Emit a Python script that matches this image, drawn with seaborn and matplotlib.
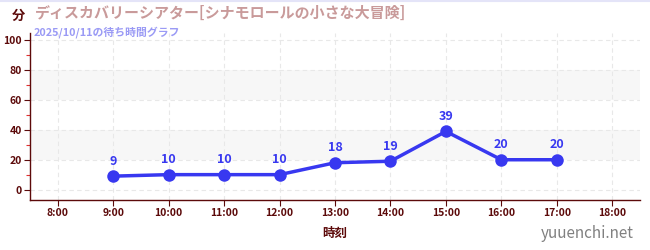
import matplotlib
matplotlib.use("Agg")
import matplotlib.pyplot as plt
import seaborn as sns
import pandas as pd
from matplotlib.ticker import MultipleLocator
from matplotlib.lines import Line2D

sns.set_theme(style="white")
plt.rcParams['font.family'] = ['Noto Sans CJK JP', 'DejaVu Sans']

times = ["9:00", "10:00", "11:00", "12:00", "13:00", "14:00", "15:00", "16:00", "17:00"]
hours = [9, 10, 11, 12, 13, 14, 15, 16, 17]
waits = [9, 10, 10, 10, 18, 19, 39, 20, 20]
tick_hours = [8, 9, 10, 11, 12, 13, 14, 15, 16, 17, 18]
tick_labels = ["8:00", "9:00", "10:00", "11:00", "12:00", "13:00", "14:00", "15:00", "16:00", "17:00", "18:00"]
title = "ディスカバリーシアター[シナモロールの小さな大冒険]"
subtitle = "2025/10/11の待ち時間グラフ"

df = pd.DataFrame({"hour": hours, "wait": waits, "time": times})

fig = plt.figure(figsize=(6.5, 2.5), dpi=100)
ax = fig.add_axes([30/650, 50/250, 610/650, 167/250])

dark = "#5c0a0a"
blue = "#3838f0"

for lo, hi in [(20, 40), (60, 80)]:
    ax.axhspan(lo, hi, color="#f7f7f7", zorder=0, lw=0)

sns.lineplot(data=df, x="hour", y="wait", ax=ax, color=blue, lw=2.5,
             marker="o", markersize=9, markeredgewidth=0, zorder=3)

for h, w in zip(hours, waits):
    ax.annotate(str(w), (h, w), xytext=(0, 6), textcoords="offset points",
                ha="center", va="bottom", color=blue, fontsize=9, fontweight="bold")

ax.set_xlim(7.5, 18.5)
ax.set_ylim(-7, 105)
ax.set_xticks(tick_hours)
ax.set_xticklabels(tick_labels)
ax.set_yticks([0, 20, 40, 60, 80, 100])
ax.yaxis.set_minor_locator(MultipleLocator(10))
ax.grid(True, which="major", color="#e8e8e8", ls=(0, (4, 3)), lw=0.8)
ax.set_axisbelow(True)

for s in ["top", "right"]:
    ax.spines[s].set_visible(False)
for s in ["left", "bottom"]:
    ax.spines[s].set_color(dark)
    ax.spines[s].set_linewidth(1)

ax.tick_params(axis="both", which="major", colors=dark, labelsize=7.5, length=4, width=0.8, direction="out",
               left=True, bottom=True, pad=2)
ax.tick_params(axis="y", which="minor", color="#e03030", length=3, width=0.8, left=True)
for lab in ax.get_xticklabels() + ax.get_yticklabels():
    lab.set_color(dark)
    lab.set_fontweight("bold")

ax.set_xlabel("時刻", color=dark, fontsize=9, labelpad=6, fontweight="bold")
ax.set_ylabel("")

fig.text(12/650, 1 - 16/250, "分", color=dark, fontsize=9.5, va="center", ha="left", fontweight="bold")
fig.text(35/650, 1 - 13/250, title, color="#c99a9a", fontsize=10.8, va="center", ha="left", fontweight="bold")
fig.text(34/650, 1 - 32/250, subtitle, color="#9a9af5", fontsize=7.8, va="center", ha="left", fontweight="bold")
fig.text(634/650, 1 - 233/250, "yuuenchi.net", color="#808080", fontsize=11, va="center", ha="right")

fig.add_artist(Line2D([0, 1], [0.998, 0.998], transform=fig.transFigure, color="#e4e4f8", lw=1.5))

fig.savefig("out.png", dpi=100)
